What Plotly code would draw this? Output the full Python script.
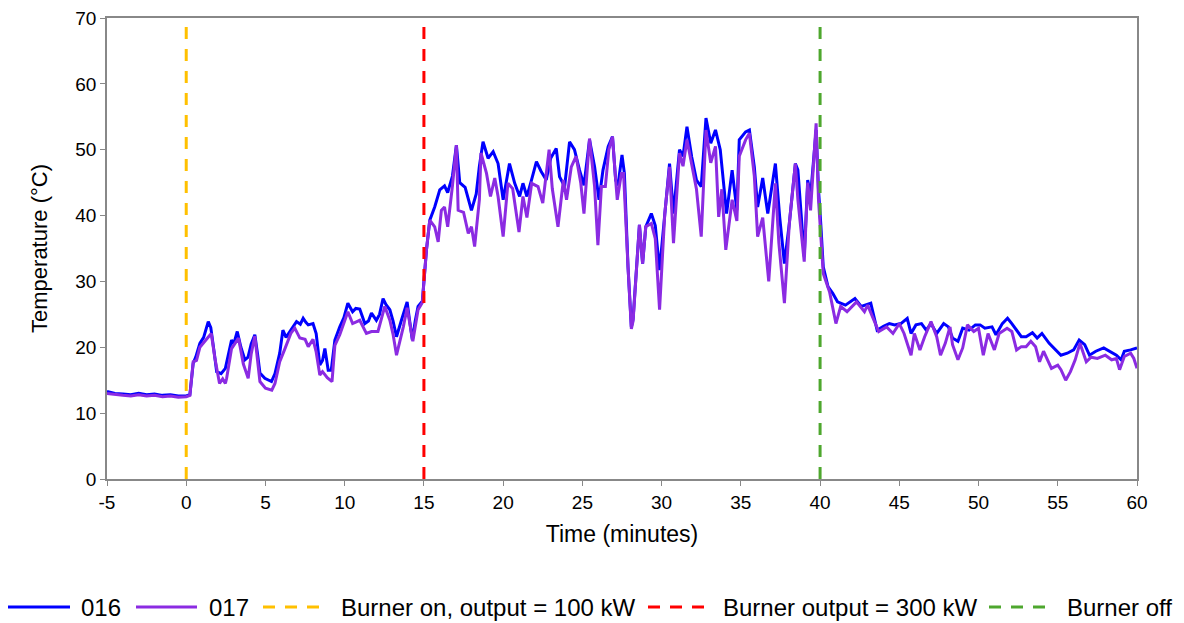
import plotly.graph_objects as go

# ---- data ----
t016 = [-5, -4.5, -4, -3.5, -3, -2.5, -2, -1.5, -1, -0.5, 0, 0.23, 0.44, 0.6, 0.86, 1.1, 1.39, 1.55, 1.75, 1.92,
        2.2, 2.47, 2.86, 3.0, 3.22, 3.45, 3.7, 3.9, 4.1, 4.33, 4.5, 4.65, 4.96, 5.2, 5.38, 5.6, 5.9, 6.1, 6.3, 6.54,
        6.96, 7.2, 7.38, 7.55, 7.7, 8.0, 8.2, 8.43, 8.6, 8.75, 8.96, 9.15, 9.38, 9.69, 9.95, 10.2, 10.5, 10.7, 10.95,
        11.27, 11.5, 11.69, 12.0, 12.2, 12.42, 12.6, 12.85, 13.05, 13.27, 13.58, 13.94, 14.1, 14.27, 14.45, 14.63,
        14.9, 15.16, 15.37, 15.68, 16.0, 16.3, 16.5, 16.8, 17.05, 17.26, 17.6, 17.8, 18.0, 18.3, 18.5, 18.73, 19.05,
        19.37, 19.68, 20.0, 20.2, 20.4, 20.73, 21.04, 21.25, 21.5, 21.8, 22.1, 22.4, 22.72, 23.0, 23.35, 23.56,
        23.88, 24.19, 24.5, 24.82, 25.1, 25.45, 25.77, 26.05, 26.3, 26.63, 26.9, 27.1, 27.25, 27.5, 27.65, 27.88,
        28.09, 28.2, 28.4, 28.6, 28.8, 29.0, 29.35, 29.6, 29.87, 30.2, 30.5, 30.75, 31.13, 31.35, 31.6, 31.9, 32.2,
        32.5, 32.8, 33.1, 33.4, 33.7, 34.1, 34.45, 34.75, 34.9, 35.3, 35.54, 35.85, 36.06, 36.38, 36.7, 37.18,
        37.45, 37.75, 38.06, 38.44, 38.6, 39.0, 39.22, 39.4, 39.75, 39.9, 40.05, 40.2, 40.5, 40.8, 41.1, 41.6,
        42.2, 42.6, 43.2, 43.6, 44.0, 44.37, 44.7, 45.1, 45.5, 45.74, 46.05, 46.4, 46.7, 47.0, 47.36, 47.8, 48.1,
        48.36, 48.7, 49.0, 49.4, 49.8, 50.1, 50.4, 50.85, 51.1, 51.5, 51.83, 52.1, 52.4, 52.7, 53.0, 53.4, 53.7,
        54.0, 54.46, 54.9, 55.2, 55.6, 56.0, 56.35, 56.7, 57.0, 57.4, 57.9, 58.3, 58.7, 59.0, 59.2, 59.6, 60.0]
v016 = [13.3, 13.0, 12.9, 12.8, 13.0, 12.8, 12.9, 12.7, 12.8, 12.6, 12.6, 12.8, 17.6, 18.5, 20.6, 21.5, 23.9, 23.0,
        19.5, 16.3, 16.0, 16.8, 21.1, 20.5, 22.4, 20.0, 18.1, 18.5, 20.5, 21.9, 19.0, 16.1, 15.3, 15.0, 14.8, 16.0,
        19.1, 22.6, 21.5, 22.4, 23.9, 23.5, 24.4, 23.8, 23.4, 23.6, 22.1, 17.3, 18.0, 19.8, 16.5, 16.5, 21.1, 23.1,
        24.5, 26.7, 25.4, 25.9, 25.8, 23.6, 24.0, 25.2, 24.1, 25.0, 27.4, 26.5, 25.7, 24.0, 21.6, 24.1, 26.9, 24.0,
        21.1, 24.0, 26.2, 27.0, 34.8, 39.3, 41.3, 43.9, 44.5, 43.5, 46.0, 50.7, 45.0, 44.3, 42.5, 40.8, 43.3, 47.5,
        51.2, 48.7, 49.7, 47.9, 42.4, 45.0, 47.9, 44.9, 42.9, 44.9, 42.9, 45.5, 48.2, 46.7, 45.4, 48.7, 50.2, 45.9,
        44.4, 51.2, 50.0, 46.9, 44.6, 51.5, 47.4, 42.4, 46.9, 50.5, 52.0, 45.4, 44.6, 49.2, 46.4, 32.2, 23.1, 24.3,
        31.2, 38.6, 32.7, 38.3, 40.3, 38.5, 31.7, 40.8, 47.9, 40.3, 50.0, 49.0, 53.5, 48.9, 45.4, 44.4, 54.8, 51.0,
        53.0, 50.0, 40.3, 46.9, 40.8, 51.5, 52.7, 53.0, 47.4, 41.3, 45.7, 40.3, 47.9, 39.8, 32.7, 38.8, 47.9, 46.9,
        33.8, 45.4, 43.0, 53.0, 44.0, 38.5, 32.2, 29.2, 28.2, 26.9, 26.4, 27.4, 26.2, 26.7, 22.6, 23.2, 23.6, 23.4,
        23.6, 24.4, 22.1, 23.4, 23.6, 22.6, 23.6, 22.1, 23.6, 23.1, 21.4, 20.9, 22.9, 22.6, 23.4, 23.4, 22.9, 23.1,
        21.9, 23.6, 24.4, 23.6, 22.6, 21.6, 21.6, 22.2, 21.4, 22.1, 20.6, 19.6, 18.8, 19.1, 19.6, 21.1, 20.4, 18.8,
        19.4, 19.9, 19.4, 18.8, 18.1, 19.4, 19.6, 19.9]

t017 = [-5, -4.5, -4, -3.5, -3, -2.5, -2, -1.5, -1, -0.5, 0, 0.23, 0.44, 0.65, 0.86, 1.2, 1.58, 1.8, 2.1, 2.3,
        2.47, 2.55, 2.86, 3.3, 3.6, 3.91, 4.1, 4.33, 4.5, 4.65, 5.0, 5.4, 5.6, 5.9, 6.2, 6.6, 6.85, 7.17, 7.5, 7.7,
        8.0, 8.2, 8.43, 8.6, 8.9, 9.2, 9.38, 9.69, 10.2, 10.5, 10.95, 11.37, 11.69, 12.1, 12.53, 12.85, 13.05,
        13.27, 13.7, 13.94, 14.3, 14.63, 14.9, 15.16, 15.37, 15.68, 15.9, 16.1, 16.3, 16.5, 16.8, 17.05, 17.16,
        17.5, 17.8, 18.0, 18.2, 18.5, 18.6, 18.95, 19.2, 19.47, 19.68, 20.0, 20.3, 20.6, 21.0, 21.25, 21.5, 21.8,
        22.2, 22.5, 22.9, 23.1, 23.46, 23.8, 24.0, 24.3, 24.6, 24.9, 25.1, 25.45, 25.77, 25.98, 26.2, 26.45, 26.67,
        26.9, 27.1, 27.2, 27.46, 27.6, 27.88, 28.09, 28.2, 28.4, 28.6, 28.8, 29.0, 29.35, 29.6, 29.87, 30.2, 30.5,
        30.75, 31.13, 31.35, 31.6, 31.9, 32.2, 32.5, 32.8, 33.1, 33.4, 33.6, 33.8, 34.05, 34.45, 34.75, 34.9, 35.3,
        35.54, 35.85, 36.06, 36.38, 36.76, 37.18, 37.4, 37.75, 38.06, 38.44, 38.6, 39.0, 39.22, 39.4, 39.75, 39.9,
        40.05, 40.2, 40.6, 41.0, 41.3, 41.7, 42.3, 42.8, 43.0, 43.7, 44.2, 44.6, 45.0, 45.3, 45.74, 45.95, 46.3,
        46.6, 47.0, 47.36, 47.6, 47.9, 48.2, 48.36, 48.7, 49.0, 49.3, 49.7, 50.0, 50.3, 50.6, 51.0, 51.3, 51.8,
        52.1, 52.4, 52.7, 53.0, 53.3, 53.6, 53.85, 54.1, 54.6, 55.0, 55.2, 55.5, 55.8, 56.1, 56.4, 56.8, 57.1,
        57.5, 58.0, 58.4, 58.7, 58.9, 59.2, 59.6, 59.8, 60.0]
v017 = [13.0, 12.8, 12.7, 12.6, 12.8, 12.6, 12.7, 12.5, 12.6, 12.4, 12.5, 12.7, 17.8, 18.0, 20.0, 21.0, 22.1, 18.5,
        14.5, 15.2, 14.5, 15.3, 19.8, 21.4, 17.5, 15.3, 19.0, 21.7, 18.0, 14.8, 13.8, 13.5, 14.5, 17.8, 19.6, 22.1,
        22.9, 21.4, 21.2, 20.1, 21.2, 19.3, 15.8, 16.3, 15.4, 14.8, 20.3, 21.9, 25.4, 23.6, 24.1, 22.1, 22.4, 22.4,
        26.2, 24.1, 22.0, 18.8, 23.1, 26.0, 20.9, 25.7, 26.8, 34.8, 39.3, 38.3, 36.0, 40.8, 41.3, 38.3, 44.5, 50.7,
        40.8, 40.5, 37.3, 38.3, 35.3, 42.4, 49.5, 46.4, 42.9, 45.7, 42.9, 36.8, 44.9, 44.1, 37.5, 42.9, 39.7, 44.9,
        44.4, 41.9, 50.0, 44.1, 38.3, 45.4, 42.4, 47.4, 49.0, 44.9, 40.3, 51.7, 44.4, 35.5, 44.4, 44.4, 50.0, 52.0,
        45.4, 42.4, 46.4, 46.4, 32.2, 22.8, 24.0, 31.2, 38.6, 32.7, 38.3, 38.8, 36.5, 25.7, 40.3, 47.4, 35.8, 49.5,
        47.5, 51.5, 47.5, 44.0, 36.8, 53.0, 48.0, 50.5, 39.8, 44.0, 34.8, 42.4, 39.2, 49.0, 51.5, 52.5, 46.0, 36.8,
        39.7, 30.0, 44.9, 35.8, 26.7, 38.8, 47.9, 42.4, 33.0, 45.0, 40.8, 54.0, 42.4, 37.3, 31.2, 28.4, 23.6, 26.2,
        25.4, 26.9, 25.4, 26.4, 22.4, 23.1, 22.1, 23.6, 22.1, 18.8, 22.1, 19.6, 21.6, 23.9, 21.6, 18.8, 20.6, 23.1,
        20.4, 18.1, 19.9, 23.4, 22.4, 22.9, 18.8, 22.1, 19.6, 22.1, 22.9, 22.4, 19.6, 20.1, 20.1, 20.9, 20.1, 17.8,
        19.4, 16.8, 17.3, 16.6, 15.0, 16.3, 18.1, 20.6, 17.8, 18.5, 18.3, 18.8, 18.1, 18.3, 16.6, 18.6, 19.1, 18.3,
        16.8]

series_names = ["016", "017"]
series_colors = ["#0000FF", "#8B2BE2"]

event_names = ["Burner on, output = 100 kW", "Burner output = 300 kW", "Burner off"]
event_times = [0, 15, 40]
event_colors = ["#FFC000", "#FF0000", "#4EA72E"]

x_tickvals = [-5, 0, 5, 10, 15, 20, 25, 30, 35, 40, 45, 50, 55, 60]
x_ticktext = ["-5", "0", "5", "10", "15", "20", "25", "30", "35", "40", "45", "50", "55", "60"]
y_tickvals = [0, 10, 20, 30, 40, 50, 60, 70]
y_range = [0, 70]

FONT = "Liberation Sans, Arial, sans-serif"
DASH = "12px,10px"
W, H = 1184, 623
ML, MR, MT, MB = 107, 47, 18, 144
PW, PH = W - ML - MR, H - MT - MB

fig = go.Figure()
for x, y, n, c in [(t016, v016, series_names[0], series_colors[0]),
                   (t017, v017, series_names[1], series_colors[1])]:
    fig.add_trace(go.Scatter(x=x, y=y, mode="lines", name=n, showlegend=False,
                             line=dict(color=c, width=3)))
for name, t, c in zip(event_names, event_times, event_colors):
    fig.add_trace(go.Scatter(x=[t, t], y=y_range, mode="lines", name=name, showlegend=False,
                             line=dict(color=c, width=3, dash=DASH)))

# ---- legend drawn below the plot (long keys like the original) ----
leg_names = series_names + event_names
leg_colors = series_colors + event_colors
leg_dash = ["solid", "solid", DASH, DASH, DASH]
leg_line_px = [(8, 70), (136, 197), (263, 325), (648, 708), (989, 1050)]
leg_text_px = [80, 208, 340, 722, 1066]
leg_y_px = 607

def px2x(px):
    return (px - ML) / PW

def py2y(py):
    return (H - MB - py) / PH

shapes, annotations = [], []
for name, col, dsh, (x0, x1), tx in zip(leg_names, leg_colors, leg_dash, leg_line_px, leg_text_px):
    shapes.append(dict(type="line", xref="paper", yref="paper",
                       x0=px2x(x0), x1=px2x(x1), y0=py2y(leg_y_px), y1=py2y(leg_y_px),
                       line=dict(color=col, width=3, dash=dsh)))
    annotations.append(dict(text=name, xref="paper", yref="paper", x=px2x(tx), y=py2y(leg_y_px),
                            xanchor="left", yanchor="middle", showarrow=False,
                            font=dict(family=FONT, size=24, color="#000000"), borderpad=0))

axis_common = dict(showline=True, linecolor="#888888", linewidth=1.5, mirror=True,
                   ticks="outside", ticklen=5, tickcolor="#888888", showgrid=False,
                   zeroline=False, automargin=False,
                   tickfont=dict(family=FONT, size=19, color="#000000"))

fig.update_layout(
    width=W, height=H,
    margin=dict(l=ML, r=MR, t=MT, b=MB),
    paper_bgcolor="white", plot_bgcolor="white",
    font=dict(family=FONT, size=19, color="#000000"),
    xaxis=dict(range=[-5, 60], tickvals=x_tickvals, ticktext=x_ticktext,
               title=dict(text="Time (minutes)", font=dict(family=FONT, size=23), standoff=14),
               **axis_common),
    yaxis=dict(range=y_range, tickvals=y_tickvals,
               title=dict(text="Temperature (°C)", font=dict(family=FONT, size=22), standoff=22),
               **axis_common),
    showlegend=False,
    shapes=shapes,
    annotations=annotations,
)

fig.write_html("out.html")
